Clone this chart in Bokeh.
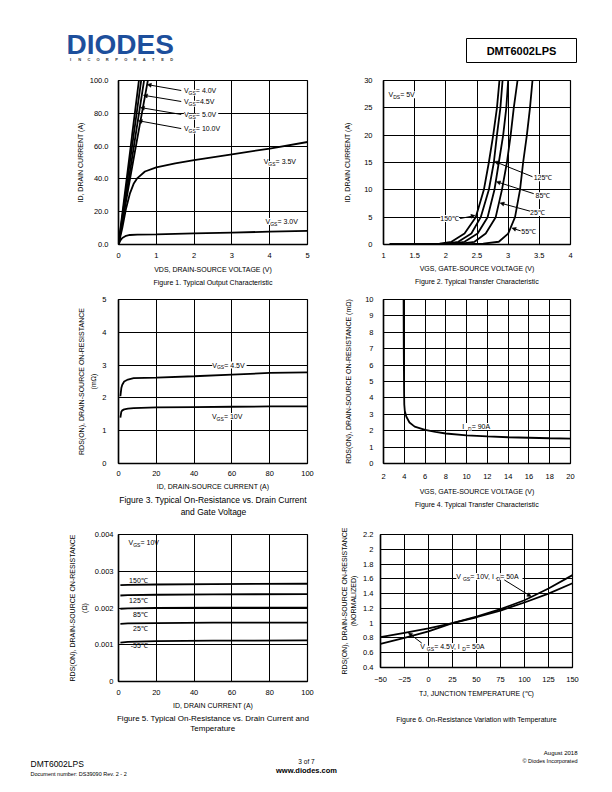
from bokeh.plotting import figure
from bokeh.models import Range1d, FixedTicker, Title, Arrow, NormalHead
from bokeh.layouts import column, row
from bokeh.embed import file_html
from bokeh.resources import INLINE
from bokeh.core.properties import value

FONT = "Liberation Sans"

# ---------------- data ----------------
# Figure 1 - output characteristic
f1_x_ticks = [0, 1, 2, 3, 4, 5]
f1_y_ticks = [0, 20, 40, 60, 80, 100]
f1_y_labels = ["0.0", "20.0", "40.0", "60.0", "80.0", "100.0"]
f1_vds_100 = [0, 0.567]
f1_id_100 = [0, 105]
f1_vds_50 = [0, 0.63]
f1_id_50 = [0, 105]
f1_vds_45 = [0, 0.3, 0.71]
f1_id_45 = [0, 44, 105]
f1_vds_40 = [0, 0.1, 0.3, 0.5, 0.8]
f1_id_40 = [0, 13.5, 39.5, 65, 103]
f1_vds_35 = [0, 0.1, 0.2, 0.3, 0.4, 0.5, 0.7, 1.0, 1.5, 2, 3, 4, 5]
f1_id_35 = [0, 10, 22, 31, 37, 40.5, 44.5, 47, 49.5, 51.5, 55, 58.5, 62.5]
f1_vds_30 = [0, 0.05, 0.1, 0.2, 0.3, 0.5, 1, 2, 3, 4, 5]
f1_id_30 = [0, 2.5, 4, 5.3, 5.8, 6.0, 6.2, 6.8, 7.3, 7.8, 8.3]

# Figure 2 - transfer characteristic
f2_x_ticks = [1, 1.5, 2, 2.5, 3, 3.5, 4]
f2_x_labels = ["1", "1.5", "2", "2.5", "3", "3.5", "4"]
f2_y_ticks = [0, 5, 10, 15, 20, 25, 30]
f2_id = [0, 0.03, 0.15, 0.5, 2, 5, 10, 15, 20, 25, 30, 33]
f2_vgs_150 = [1.1, 1.6, 1.9, 2.09, 2.30, 2.48, 2.61, 2.69, 2.76, 2.82, 2.86, 2.88]
f2_vgs_125 = [1.1, 1.7, 2.0, 2.20, 2.41, 2.56, 2.69, 2.77, 2.82, 2.875, 2.91, 2.93]
f2_vgs_85 = [1.1, 1.8, 2.1, 2.30, 2.51, 2.67, 2.78, 2.85, 2.92, 2.97, 3.00, 3.02]
f2_vgs_25 = [1.1, 1.9, 2.25, 2.46, 2.64, 2.80, 2.90, 2.98, 3.04, 3.09, 3.15, 3.17]
f2_vgs_m55 = [1.1, 2.2, 2.6, 2.85, 3.00, 3.11, 3.19, 3.24, 3.30, 3.35, 3.39, 3.41]

# Figure 3 - on-resistance vs drain current and gate voltage
f3_x_ticks = [0, 20, 40, 60, 80, 100]
f3_y_ticks = [0, 1, 2, 3, 4, 5]
f3_id = [1, 1.5, 2, 3, 5, 8, 20, 40, 60, 80, 100]
f3_r_45 = [2.05, 2.3, 2.4, 2.5, 2.56, 2.6, 2.62, 2.66, 2.71, 2.76, 2.78]
f3_r_10 = [1.4, 1.58, 1.62, 1.65, 1.67, 1.69, 1.71, 1.72, 1.73, 1.74, 1.74]

# Figure 4 - on-resistance vs gate voltage
f4_x_ticks = [2, 4, 6, 8, 10, 12, 14, 16, 18, 20]
f4_y_ticks = [0, 1, 2, 3, 4, 5, 6, 7, 8, 9, 10]
f4_vgs = [3.93, 3.95, 3.98, 4.0, 4.05, 4.2, 4.5, 5, 6, 7, 8, 10, 12, 14, 16, 18, 20]
f4_r = [10.5, 7.0, 4.5, 3.6, 3.2, 2.85, 2.5, 2.25, 2.05, 1.93, 1.83, 1.72, 1.65, 1.6, 1.57, 1.54, 1.52]

# Figure 5 - on-resistance vs drain current and temperature
f5_x_ticks = [0, 20, 40, 60, 80, 100]
f5_y_ticks = [0, 0.001, 0.002, 0.003, 0.004]
f5_y_labels = ["0", "0.001", "0.002", "0.003", "0.004"]
f5_id = [1, 5, 20, 50, 100]
f5_r_150 = [0.00262, 0.00263, 0.00264, 0.00265, 0.00266]
f5_r_125 = [0.00234, 0.00235, 0.00236, 0.00237, 0.00238]
f5_r_85 = [0.00198, 0.00199, 0.00200, 0.00201, 0.00201]
f5_r_25 = [0.00157, 0.00158, 0.00159, 0.00160, 0.00160]
f5_r_m55 = [0.00106, 0.00108, 0.00110, 0.00111, 0.00112]

# Figure 6 - normalized on-resistance vs temperature
f6_x_ticks = [-50, -25, 0, 25, 50, 75, 100, 125, 150]
f6_y_ticks = [0.4, 0.6, 0.8, 1.0, 1.2, 1.4, 1.6, 1.8, 2.0, 2.2]
f6_y_labels = ["0.4", "0.6", "0.8", "1", "1.2", "1.4", "1.6", "1.8", "2", "2.2"]
f6_tj = [-50, -25, 0, 25, 50, 75, 100, 125, 150]
f6_r_10 = [0.72, 0.80, 0.89, 1.0, 1.09, 1.19, 1.31, 1.47, 1.65]
f6_r_45 = [0.81, 0.87, 0.93, 1.0, 1.08, 1.17, 1.28, 1.40, 1.54]

# ---------------- helpers ----------------
AW = {' ': 278, '(': 333, ')': 333, ',': 278, '-': 333, '.': 278, '=': 584, ':': 278,
      'A': 667, 'B': 667, 'C': 722, 'D': 722, 'E': 667, 'F': 611, 'G': 778, 'H': 722,
      'I': 278, 'J': 500, 'K': 667, 'L': 556, 'M': 833, 'N': 722, 'O': 778, 'P': 667,
      'Q': 778, 'R': 722, 'S': 667, 'T': 611, 'U': 722, 'V': 667, 'W': 944, 'X': 667,
      'Y': 667, 'Z': 611, '\u2103': 1000, '\u03a9': 768}
for ch in "0123456789":
    AW[ch] = 556
NB = "\u00a0"


def tw(s, size):
    return sum(AW.get(c, 556) for c in s) / 1000.0 * size


def rich(p, x, y, parts, size=7.0, align="left", bg=True):
    sub = size * 0.72
    ws = [tw(t, sub if s else size) for t, s in parts]
    total = sum(ws)
    off = {"left": 0.0, "center": -total / 2, "right": -total}[align]
    for (t, s), w in zip(parts, ws):
        kw = dict(background_fill_color="white") if bg else {}
        p.text(x=[x], y=[y], text=[t], x_offset=off, y_offset=(size * 0.32 if s else 0),
               text_font=value(FONT), text_font_size=f"{sub if s else size}px",
               text_align="left", text_baseline="middle", text_color="black", **kw)
        off += w


def arrow(p, x0, y0, x1, y1):
    p.add_layout(Arrow(end=NormalHead(size=4, fill_color="black", line_color="black", line_width=0.5),
                       x_start=x0, y_start=y0, x_end=x1, y_end=y1,
                       line_color="black", line_width=1))


def chart(width, height, left, right, top, bottom, xr, yr, xt, yt, xl=None, yl=None,
          xlabel="", ylabel="", yts=10, xts=8, yls=3, xls=4, ylh=1.2):
    p = figure(width=width, height=height, x_range=Range1d(*xr), y_range=Range1d(*yr),
               toolbar_location=None, output_backend="svg",
               min_border_left=left, min_border_right=right,
               min_border_top=top, min_border_bottom=bottom,
               background_fill_color="white", border_fill_color="white")
    p.frame_align = False
    p.outline_line_color = "black"
    p.outline_line_width = 1.2
    p.xaxis.ticker = FixedTicker(ticks=xt)
    p.yaxis.ticker = FixedTicker(ticks=yt)
    p.xgrid.ticker = FixedTicker(ticks=xt)
    p.ygrid.ticker = FixedTicker(ticks=yt)
    if xl:
        p.xaxis.major_label_overrides = dict(zip(xt, xl))
    if yl:
        p.yaxis.major_label_overrides = dict(zip(yt, yl))
    p.grid.grid_line_color = "black"
    p.grid.grid_line_width = 1
    p.grid.grid_line_alpha = 1
    for ax in p.axis:
        ax.axis_line_color = "black"
        ax.axis_line_width = 1.5
        ax.major_tick_line_color = None
        ax.minor_tick_line_color = None
        ax.major_tick_in = 0
        ax.major_tick_out = 0
        ax.major_label_text_font = FONT
        ax.major_label_text_font_size = "7.5px"
        ax.major_label_text_color = "black"
        ax.axis_label_text_font = FONT
        ax.axis_label_text_font_size = "7px"
        ax.axis_label_text_font_style = "normal"
        ax.axis_label_text_color = "black"
    p.xaxis.major_label_standoff = xts
    p.yaxis.major_label_standoff = yts
    p.xaxis.axis_label = xlabel
    p.yaxis.axis_label = ylabel
    p.xaxis.axis_label_standoff = xls
    p.yaxis.axis_label_standoff = yls
    p.yaxis.axis_label_text_line_height = ylh
    return p


def caption(p, text, size=7, standoff=2, offset=0):
    p.add_layout(Title(text=text, align="center", text_font=FONT, text_font_size=f"{size}px",
                       text_font_style="normal", text_color="black", standoff=standoff,
                       offset=offset, text_line_height=1.15), "below")


def line(p, x, y):
    p.line(x, y, line_color="black", line_width=1.8)


# ---------------- Figure 1 ----------------
c1 = chart(330, 220, 118, 23, 10, 46, (0, 5), (0, 100), f1_x_ticks, f1_y_ticks, yl=f1_y_labels,
           xlabel="VDS, DRAIN-SOURCE VOLTAGE (V)", ylabel="ID, DRAIN CURRENT (A)",
           yts=10, xts=8, yls=3, xls=5)
for xs, ys in [(f1_vds_100, f1_id_100), (f1_vds_50, f1_id_50), (f1_vds_45, f1_id_45),
               (f1_vds_40, f1_id_40), (f1_vds_35, f1_id_35), (f1_vds_30, f1_id_30)]:
    line(c1, xs, ys)
arrow(c1, 1.66, 93.9, 0.76, 97.5)
arrow(c1, 1.66, 87.2, 0.66, 91.0)
arrow(c1, 1.66, 79.3, 0.58, 83.5)
arrow(c1, 1.66, 70.7, 0.52, 75.5)
rich(c1, 1.73, 93.9, [("V", 0), ("GS", 1), (" = 4.0V", 0)])
rich(c1, 1.73, 87.2, [("V", 0), ("GS", 1), ("=4.5V", 0)])
rich(c1, 1.73, 79.3, [("V", 0), ("GS", 1), (" = 5.0V", 0)])
rich(c1, 1.73, 70.7, [("V", 0), ("GS", 1), (" = 10.0V", 0)])
rich(c1, 3.84, 50.5, [("V", 0), ("GS", 1), (" = 3.5V", 0)])
rich(c1, 3.89, 14.0, [("V", 0), ("GS", 1), (" = 3.0V", 0)])
caption(c1, "Figure 1. Typical Output Characteristic", 7, 2, 4)

# ---------------- Figure 2 ----------------
c2 = chart(274, 220, 53, 34, 10, 46, (1, 4), (0, 30), f2_x_ticks, f2_y_ticks, xl=f2_x_labels,
           xlabel="VGS, GATE-SOURCE VOLTAGE (V)", ylabel="ID, DRAIN CURRENT (A)",
           yts=11, xts=8, yls=10, xls=4)
for xs in [f2_vgs_150, f2_vgs_125, f2_vgs_85, f2_vgs_25, f2_vgs_m55]:
    line(c2, xs, f2_id)
arrow(c2, 2.23, 4.75, 2.47, 5.3)
arrow(c2, 3.39, 12.4, 2.78, 15.2)
arrow(c2, 3.41, 9.3, 2.81, 11.5)
arrow(c2, 3.35, 6.1, 2.87, 7.6)
arrow(c2, 3.2, 2.5, 3.06, 3.0)
rich(c2, 1.08, 27.4, [("V", 0), ("DS", 1), (" = 5V", 0)])
rich(c2, 3.41, 12.2, [("125\u2103", 0)])
rich(c2, 3.44, 8.9, [("85\u2103", 0)])
rich(c2, 3.35, 5.85, [("25\u2103", 0)])
rich(c2, 3.21, 2.3, [("55\u2103", 0)])
rich(c2, 2.21, 4.75, [("150\u2103", 0)], align="right")
caption(c2, "Figure 2. Typical Transfer Characteristic", 7, 2, 0)

# ---------------- Figure 3 ----------------
c3 = chart(330, 230, 118, 23, 9, 57, (0, 100), (0, 5), f3_x_ticks, f3_y_ticks,
           xlabel="ID, DRAIN-SOURCE CURRENT (A)",
           ylabel="RDS(ON), DRAIN-SOURCE ON-RESISTANCE\n(m\u03a9)",
           yts=12, xts=7, yls=2, xls=4, ylh=1.8)
line(c3, f3_id, f3_r_45)
line(c3, f3_id, f3_r_10)
rich(c3, 58.7, 3.0, [("V", 0), ("GS", 1), (" = 4.5V", 0)], align="center")
rich(c3, 58.0, 1.43, [("V", 0), ("GS", 1), (" = 10V", 0)], align="center")
caption(c3, "Figure 3. Typical On-Resistance vs. Drain Current\n" + NB * 26 + "and Gate Voltage", 8.5, 0, 5)

# ---------------- Figure 4 ----------------
c4 = chart(274, 230, 53, 34, 9, 57, (2, 20), (0, 10), f4_x_ticks, f4_y_ticks,
           xlabel="VGS, GATE-SOURCE VOLTAGE (V)",
           ylabel="RDS(ON), DRAIN-SOURCE ON-RESISTANCE (m\u03a9)",
           yts=10, xts=10, yls=10, xls=6)
line(c4, f4_vgs, f4_r)
rich(c4, 11.2, 2.25, [("  I", 0), ("D", 1), (" = 90A  ", 0)], align="center")
caption(c4, "Figure 4. Typical Transfer Characteristic", 7, 3, 0)

# ---------------- Figure 5 ----------------
c5 = chart(330, 220, 118, 23, 14, 59, (0, 100), (0, 0.004), f5_x_ticks, f5_y_ticks, yl=f5_y_labels,
           xlabel="ID, DRAIN CURRENT (A)",
           ylabel="RDS(ON), DRAIN-SOURCE ON-RESISTANCE\n(\u03a9)",
           yts=5, xts=8, yls=4, xls=4, ylh=1.7)
for r in [f5_r_150, f5_r_125, f5_r_85, f5_r_25, f5_r_m55]:
    line(c5, f5_id, r)
rich(c5, 5.3, 0.00378, [("V", 0), ("GS", 1), (" = 10V", 0)], bg=False)
rich(c5, 15.5, 0.00276, [("150\u2103", 0)], align="right", bg=False)
rich(c5, 15.5, 0.00220, [("125\u2103", 0)], align="right", bg=False)
rich(c5, 15.5, 0.00182, [("85\u2103", 0)], align="right", bg=False)
rich(c5, 15.5, 0.00145, [("25\u2103", 0)], align="right", bg=False)
rich(c5, 15.5, 0.00097, [("-55\u2103", 0)], align="right", bg=False)
caption(c5, "Figure 5. Typical On-Resistance vs. Drain Current and\n" + NB * 33 + "Temperature", 8, 1, 0)

# ---------------- Figure 6 ----------------
c6 = chart(274, 220, 50, 32, 14, 73, (-50, 150), (0.4, 2.2), f6_x_ticks, f6_y_ticks, yl=f6_y_labels,
           xlabel="TJ, JUNCTION TEMPERATURE (\u2103)",
           ylabel="RDS(ON), DRAIN-SOURCE ON-RESISTANCE\n(NORMALIZED)",
           yts=7, xts=9, yls=3, xls=5, ylh=1.3)
line(c6, f6_tj, f6_r_10)
line(c6, f6_tj, f6_r_45)
arrow(c6, 79, 1.585, 107, 1.36)
arrow(c6, -7, 0.73, -21, 0.87)
rich(c6, 29, 1.63, [(" V", 0), ("GS", 1), (" = 10V, I", 0), ("D", 1), (" = 50A ", 0)])
rich(c6, -8.6, 0.685, [(" V", 0), ("GS", 1), (" = 4.5V, I", 0), ("D", 1), (" = 50A ", 0)])
caption(c6, "Figure 6. On-Resistance Variation with Temperature", 7, 28, 0)


# ---------------- header & footer ----------------
def canvas(h, y0, y1):
    p = figure(width=604, height=h, x_range=Range1d(0, 604), y_range=Range1d(y1, y0),
               toolbar_location=None, output_backend="svg", min_border=0,
               x_axis_location=None, y_axis_location=None)
    p.grid.visible = False
    p.outline_line_color = None
    p.frame_align = False
    return p


def ctext(p, x, y, t, size, align="left", style="normal", color="black", baseline="middle"):
    p.text(x=[x], y=[y], text=[t], text_font=value(FONT), text_font_size=f"{size}px",
           text_align=align, text_baseline=baseline, text_font_style=style, text_color=color)


head = canvas(70, 0, 70)
ctext(head, 66, 43.5, "DIODES", 28, style="bold", color="#1d4f9c")
letters = "INCORPORATED"
for i, ch in enumerate(letters):
    ctext(head, 70 + i * 9.2, 58.5, ch, 4, align="center", style="bold", color="#333333")
head.quad(left=[466], right=[576], top=[38], bottom=[62], fill_color=None, line_color="black", line_width=1)
ctext(head, 521, 50, "DMT6002LPS", 11, align="center", style="bold")

foot = canvas(44, 740, 784)
ctext(foot, 30, 763, "DMT6002LPS", 8.5)
ctext(foot, 30, 773, "Document number: DS39090 Rev. 2 - 2", 5.5)
ctext(foot, 306, 761, "3 of 7", 6.5, align="center")
ctext(foot, 306, 769.5, "www.diodes.com", 7.5, align="center", style="bold")
ctext(foot, 577, 752, "August 2018", 6, align="right")
ctext(foot, 577, 760, "\u00a9 Diodes Incorporated", 5.5, align="right")

page = column(head, row(c1, c2), row(c3, c4), row(c5, c6), foot)
open("out.html", "w").write(file_html(page, INLINE))
